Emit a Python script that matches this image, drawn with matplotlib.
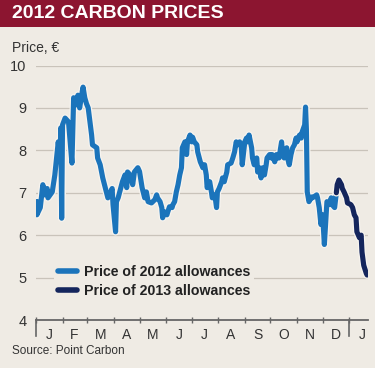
import numpy as np
import matplotlib
matplotlib.use('Agg')
import matplotlib.pyplot as plt
import matplotlib.patheffects as pe

plt.rcParams['font.family'] = ['Liberation Sans', 'DejaVu Sans']

# dias desde el 1 de enero de 2012
dias_2012 = [0, 1, 5, 8, 10, 13, 14, 19, 22, 24, 26, 28, 29, 30, 31, 34, 38, 42, 44, 48,
             49, 51, 54, 55, 57, 59, 61, 63, 65, 66, 71, 72, 75, 78, 80, 83, 84, 89, 90, 93,
             94, 96, 100, 101, 104, 106, 107, 110, 113, 115, 119, 121, 124, 127, 129, 131, 135, 139, 141, 142,
             145, 147, 148, 150, 153, 154, 156, 159, 160, 162, 164, 166, 168, 170, 171, 174, 176, 177, 180, 182,
             183, 185, 188, 189, 192, 195, 197, 199, 200, 203, 205, 206, 209, 211, 212, 214, 217, 218, 220, 223,
             224, 228, 230, 232, 234, 235, 238, 240, 241, 244, 246, 247, 249, 252, 253, 255, 258, 259, 261, 263,
             265, 267, 269, 270, 273, 275, 276, 279, 281, 282, 284, 287, 288, 290, 293, 294, 296, 298, 300, 302,
             304, 305, 308, 310, 311, 314, 315, 316, 317, 319, 322, 323, 328, 329, 331, 333, 335, 337, 339, 340,
             343, 345, 346, 349, 351]
precio_2012 = [6.79, 6.48, 6.65, 7.19, 6.95, 7.10, 6.88, 7.02, 7.42, 7.82, 8.20, 7.73, 8.53, 6.40, 8.60, 8.76, 8.67, 7.70, 9.24, 9.07,
               9.30, 9.00, 9.38, 9.49, 9.24, 9.10, 9.00, 8.67, 8.36, 8.13, 8.06, 7.82, 7.66, 7.35, 7.19, 6.95, 6.88, 7.10, 6.72, 6.08,
               6.79, 6.88, 7.19, 7.26, 7.42, 7.12, 7.49, 7.42, 7.19, 7.49, 7.59, 7.50, 7.12, 6.88, 7.02, 6.79, 6.76, 6.84, 6.95, 6.88,
               6.79, 6.65, 6.41, 6.55, 6.48, 6.55, 6.67, 6.65, 6.72, 6.79, 7.02, 7.19, 7.42, 7.59, 8.06, 8.20, 7.90, 8.20, 8.36, 8.20,
               8.31, 8.20, 8.13, 7.96, 7.73, 7.59, 7.66, 7.42, 7.12, 7.26, 7.02, 6.88, 6.95, 6.65, 7.02, 7.10, 7.26, 7.35, 7.26, 7.49,
               7.66, 7.70, 7.82, 7.96, 8.20, 8.13, 8.20, 8.06, 7.66, 8.20, 8.29, 8.20, 8.36, 8.06, 7.82, 7.66, 7.82, 7.49, 7.59, 7.35,
               7.59, 7.42, 7.66, 7.82, 7.90, 7.82, 7.90, 7.73, 7.90, 7.82, 7.82, 8.20, 7.96, 7.82, 8.06, 7.82, 7.66, 7.90, 8.06, 8.13,
               8.29, 8.20, 8.36, 8.29, 8.43, 8.60, 9.02, 8.50, 7.02, 6.79, 6.90, 6.88, 6.95, 6.88, 6.65, 6.25, 6.48, 5.78, 6.48, 6.79,
               6.72, 6.88, 6.72, 6.65, 7.00]

dias_2013 = [351, 352, 354, 357, 358, 360, 363, 364, 368, 370, 372, 374, 375, 378, 380, 381, 383, 386, 387]
precio_2013 = [7.00, 7.19, 7.30, 7.19, 7.10, 7.02, 6.88, 6.76, 6.72, 6.65, 6.48, 6.41, 6.08, 5.94, 6.00, 5.60, 5.29, 5.10, 5.06]

meses = ['J', 'F', 'M', 'A', 'M', 'J', 'J', 'A', 'S', 'O', 'N', 'D', 'J']
limites = [0, 31, 60, 91, 121, 152, 182, 213, 244, 274, 305, 335, 366]
centros = [15, 45, 75, 106, 136, 167, 197, 228, 259, 289, 320, 350, 381]
yticks = [4, 5, 6, 7, 8, 9, 10]

fondo = '#efebe4'
azul = '#1b74bb'
marino = '#14255c'
rojo = '#8c1530'

fig = plt.figure(figsize=(3.75, 3.68), dpi=100, facecolor=fondo)

# banda del titulo
fig.patches.append(plt.Rectangle((0, 1 - 27/368), 1, 27/368, transform=fig.transFigure,
                                 facecolor=rojo, edgecolor='none'))
fig.text(12/375, 1 - 14/368, '2012 CARBON PRICES', color='white', fontsize=14,
         fontweight='bold', va='center', ha='left')
fig.text(12/375, 1 - 48/368, 'Price, €', color='#333333', fontsize=10, va='center', ha='left')
fig.text(12/375, 1 - 351/368, 'Source: Point Carbon', color='#333333', fontsize=8.5, va='center', ha='left')

ax = fig.add_axes([36/375, 48/368, 332/375, 254.5/368])
ax.set_facecolor(fondo)
ax.set_xlim(0, 388)
ax.set_ylim(4, 10)

for v in yticks[1:]:
    ax.axhline(v, color='#c9c3ba', lw=0.9, zorder=1)

halo = [pe.withStroke(linewidth=5.5, foreground='#f7f4ef')]
ax.plot(dias_2012, precio_2012, color=azul, lw=3.7, solid_joinstyle='round', zorder=3,
        path_effects=halo, label='Price of 2012 allowances')
ax.plot(dias_2013, precio_2013, color=marino, lw=3.7, solid_joinstyle='round', zorder=4,
        solid_capstyle='round', path_effects=halo, label='Price of 2013 allowances')

for s in ['top', 'right', 'left']:
    ax.spines[s].set_visible(False)
ax.spines['bottom'].set_color('#666666')
ax.spines['bottom'].set_linewidth(1.3)

ax.set_yticks(yticks)
ax.set_yticklabels([str(v) for v in yticks])
ax.tick_params(axis='y', length=0, pad=7, labelsize=10.5, labelcolor='#333333')

ax.set_xticks(centros)
ax.set_xticklabels(meses)
ax.set_xticks(limites, minor=True)
ax.tick_params(axis='x', which='major', length=0, pad=6, labelsize=10, labelcolor='#333333')
ax.tick_params(axis='x', which='minor', length=4, width=1, color='#666666', direction='inout')
for d in [0, 366]:
    ax.axvline(d, ymin=-16/254.5, ymax=0, color='#666666', lw=1.2, clip_on=False)

leg = ax.legend(loc='upper left', bbox_to_anchor=(11/332, 1 - (254 - 65.5)/254.5),
                frameon=True, facecolor=fondo, edgecolor='none', framealpha=1,
                handlelength=1.3, handletextpad=0.5, labelspacing=0.35, borderpad=0.3,
                prop={'weight': 'bold', 'size': 10.2})
for l in leg.get_lines():
    l.set_linewidth(4)
    l.set_solid_capstyle('round')
    l.set_path_effects([])
for t in leg.get_texts():
    t.set_color('#222222')
leg.set_zorder(5)

fig.savefig('out.png', dpi=100, facecolor=fondo)
